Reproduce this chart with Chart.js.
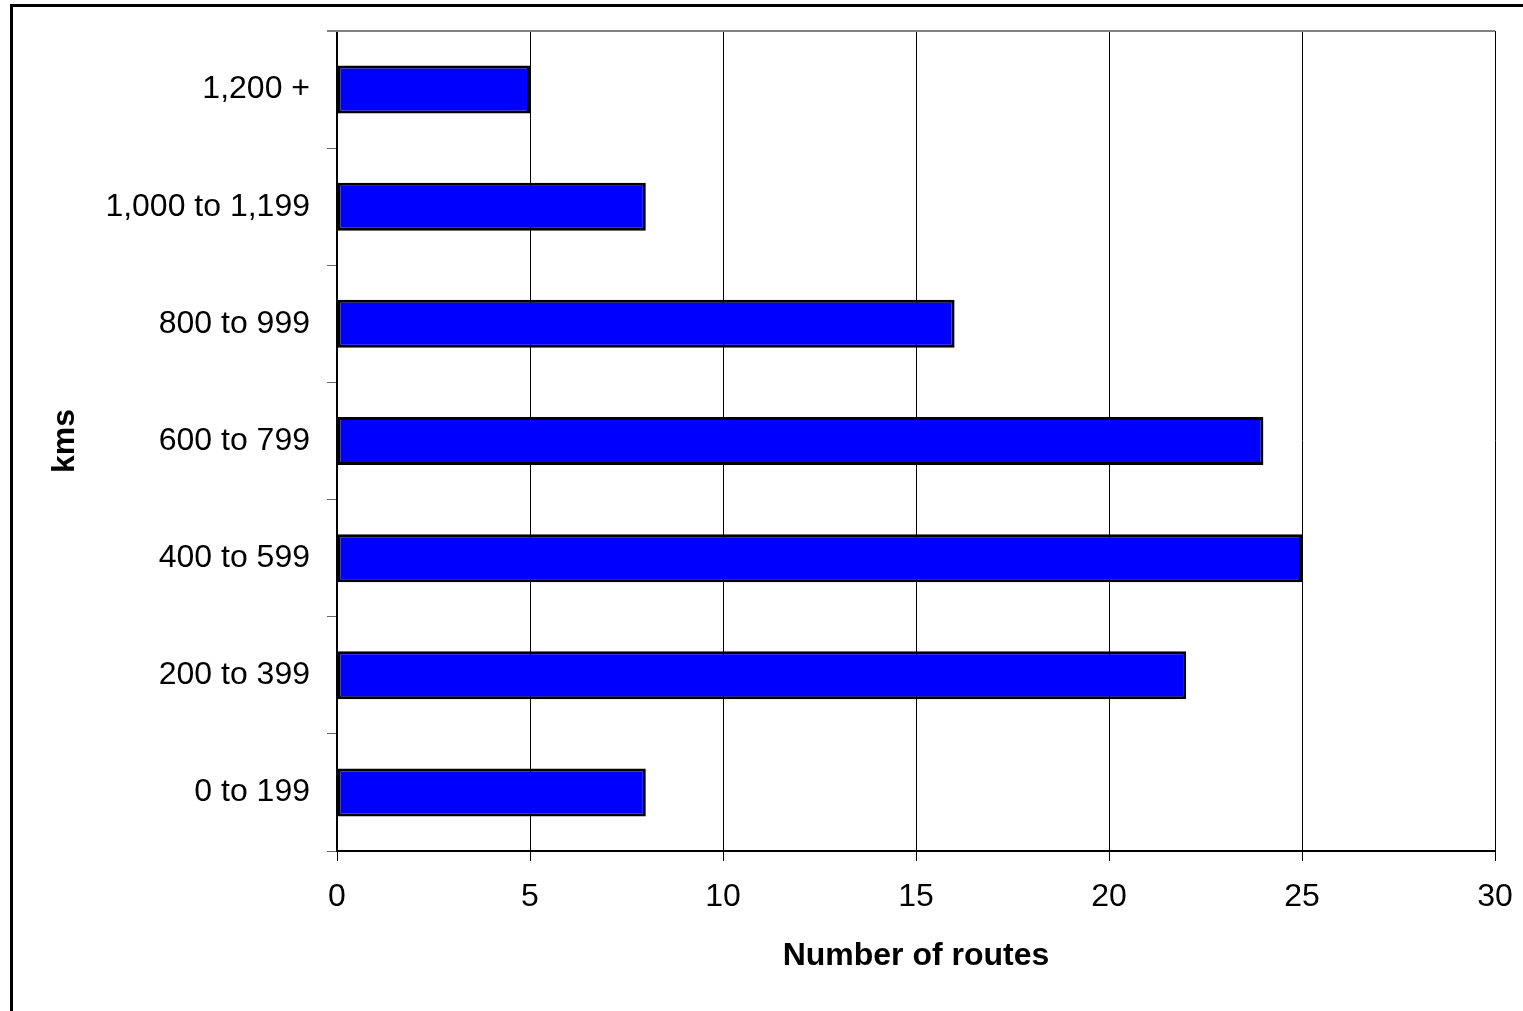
<!DOCTYPE html>
<html>
<head>
<meta charset="utf-8">
<script src="https://cdn.jsdelivr.net/npm/chart.js@4"></script>
<style>
  html, body { margin: 0; padding: 0; background: #fff; overflow: hidden; }
  #frame { position: absolute; left: 10px; top: 4px; width: 1540px; height: 1030px; border: 3px solid #000; }
  #chart { position: absolute; left: 0; top: 0; }
</style>
</head>
<body>
<div id="frame"></div>
<canvas id="chart" width="1523" height="1011"></canvas>
<script>
// Route counts per distance band
const categories = ['1,200 +', '1,000 to 1,199', '800 to 999', '600 to 799', '400 to 599', '200 to 399', '0 to 199'];
const routes = [5, 8, 16, 24, 25, 22, 8];
const xTicks = [0, 5, 10, 15, 20, 25, 30];

const fontFamily = '"Liberation Sans", Arial, sans-serif';

// top border of the plot area (gray)
const plotTop = {
  id: 'plotTop',
  afterDraw(chart) {
    const { ctx, chartArea } = chart;
    ctx.save();
    ctx.strokeStyle = '#808080';
    ctx.lineWidth = 2;
    ctx.beginPath();
    ctx.moveTo(chartArea.left - 10, chartArea.top);
    ctx.lineTo(chartArea.right, chartArea.top);
    ctx.stroke();
    ctx.restore();
  }
};

// keep label padding from pushing the plot area in
function noEdgePadding(scale) {
  scale.paddingTop = 0;
  scale.paddingBottom = 0;
  scale.paddingLeft = 0;
  scale.paddingRight = 0;
}

const ctx = document.getElementById('chart').getContext('2d');
new Chart(ctx, {
  type: 'bar',
  data: {
    labels: categories,
    datasets: [{
      label: 'Number of routes',
      data: routes,
      backgroundColor: '#0000ff',
      borderColor: '#000',
      borderWidth: 3,
      borderSkipped: false,
      barPercentage: 0.41,
      categoryPercentage: 1,
    }],
  },
  options: {
    indexAxis: 'y',
    responsive: false,
    animation: false,
    layout: { padding: { top: 31, right: 28, left: 0, bottom: 0 } },
    plugins: {
      legend: { display: false },
      tooltip: { enabled: false },
    },
    scales: {
      x: {
        min: 0,
        max: 30,
        afterFit(scale) { scale.height = 160; noEdgePadding(scale); },
        afterBuildTicks(scale) { scale.ticks = xTicks.map(v => ({ value: v })); },
        ticks: { color: '#000', padding: 17, font: { family: fontFamily, size: 32 } },
        grid: { color: '#000', lineWidth: 1, tickLength: 10 },
        border: { color: '#000', width: 2 },
        title: {
          display: true,
          text: 'Number of routes',
          color: '#000',
          font: { family: fontFamily, size: 32, weight: 'bold' },
          padding: { top: 0, bottom: 36 },
        },
      },
      y: {
        afterFit(scale) { scale.width = 337; noEdgePadding(scale); },
        ticks: { color: '#000', padding: 17, font: { family: fontFamily, size: 32 } },
        grid: { color: '#666', drawOnChartArea: false, tickLength: 10, offset: true },
        border: { color: '#000', width: 2 },
        title: {
          display: true,
          text: 'kms',
          color: '#000',
          font: { family: fontFamily, size: 32, weight: 'bold' },
          padding: { top: 46, bottom: 0 },
        },
      },
    },
  },
  plugins: [plotTop],
});
</script>
</body>
</html>
